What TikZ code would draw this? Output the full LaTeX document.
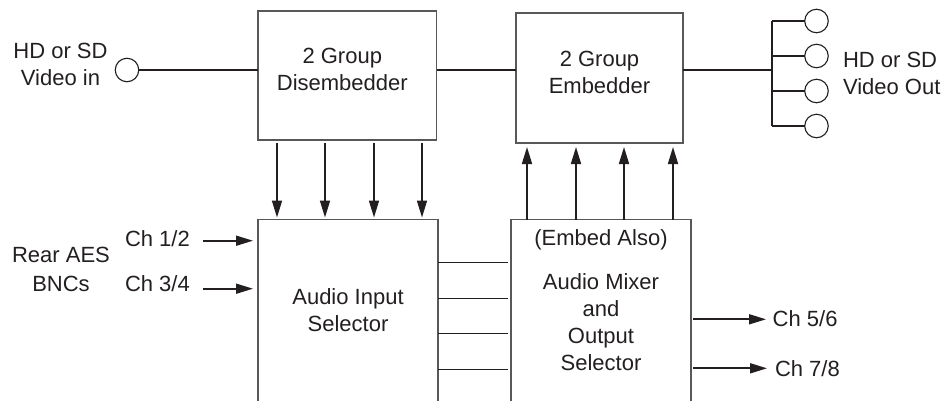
\documentclass[tikz,border=0pt]{standalone}
\usepackage{fontspec}
\setmainfont{Liberation Sans}
\usetikzlibrary{arrows.meta,calc}

\definecolor{ink}{RGB}{35,31,32}
\definecolor{edge}{RGB}{88,88,88}

\begin{document}
\begin{tikzpicture}[x=1pt,y=-1pt,
  every node/.style={inner sep=0pt, outer sep=0pt, text=ink},
  % multi-line labels are placed by the baseline of their last line
  lbl/.style={font=\fontsize{22}{27}\selectfont, align=center, anchor=base},
  lblw/.style={font=\fontsize{22}{26.5}\selectfont, align=left, anchor=base west},
  blk/.style={draw=edge, line width=1.3pt, rectangle},
  jack/.style={draw=ink, line width=1.1pt, circle, minimum size=23.5pt},
  wire/.style={draw=ink, line width=1.2pt},
  arr/.style={draw=ink, line width=1.7pt, -{Triangle[length=17pt,width=10pt]}}]

\useasboundingbox (0,0) rectangle (946,400);
\clip (0,0) rectangle (946,400);

% processing blocks
\node[blk, minimum width=178.5pt, minimum height=129pt] (dis) at (347.25,75.5) {};
\node[blk, minimum width=167pt, minimum height=130pt] (emb) at (599.5,78) {};
\node[blk, minimum width=180pt, minimum height=191pt] (sel) at (348,315) {};
\node[blk, minimum width=180pt, minimum height=191pt] (mix) at (601,315) {};

% video connectors
\node[jack] (vin) at (127,70) {};
\node[jack] (o1) at (816.5,21) {};
\node[jack] (o2) at (816.5,56) {};
\node[jack] (o3) at (816.5,91) {};
\node[jack] (o4) at (816.5,126) {};
\coordinate (bus) at (772,70);

% labels
\node[lbl] (vinlbl) at (60.5,85) {HD or SD\\Video in};
\node[lbl] (distxt) at (342.3,90) {2 Group\\Disembedder};
\node[lbl] (embtxt) at (599.5,93.3) {2 Group\\Embedder};
\node[lblw] (voutlbl) at (843,94.3) {HD or SD\\Video Out};
\node[lbl, font=\fontsize{22}{29}\selectfont] (aes) at (61,291.7) {Rear AES\\BNCs};
\node[lblw] (ch12) at (125,246) {Ch 1/2};
\node[lblw] (ch34) at (125,291.7) {Ch 3/4};
\node[lbl] (seltxt) at (348,331) {Audio Input\\Selector};
\node[lbl] (also) at (601,245) {(Embed Also)};
\node[lbl] (mixtxt) at (601,370) {Audio Mixer\\and\\Output\\Selector};
\node[lblw] (ch56) at (772.7,326.7) {Ch 5/6};
\node[lblw] (ch78) at (775,376.7) {Ch 7/8};

% video path
\draw[wire] (vin.east) -- (dis.west |- vin.center);
\draw[wire] (dis.east |- vin.center) -- (emb.west |- vin.center);
\draw[wire] (emb.east |- vin.center) -- (bus);
\draw[wire] (bus |- o1.center) -- (bus |- o4.center);
\foreach \i in {1,...,4} \draw[wire] (bus |- o\i.center) -- (o\i.west);

% disembedded audio down to the input selector
\foreach \dx in {19,67,116,164}
  \draw[arr] ($(dis.south west)+(\dx,3)$) -- ($(sel.north west)+(\dx,-2)$);

% mixer outputs up to the embedder
\foreach \dx in {16,65,113,162}
  \draw[arr] ($(mix.north west)+(\dx,0)$) -- ($(mix.north west |- emb.south)+(\dx,4)$);

% selector to mixer
\foreach \dy in {43,79,114,150}
  \draw[wire] ($(sel.north east)+(0,\dy)$) -- ($(mix.north west)+(-3,\dy)$);

% AES inputs
\draw[arr] ($(sel.north west)+(-55,21.2)$) -- ($(sel.north west)+(-5,21.2)$);
\draw[arr] ($(sel.north west)+(-55,69.2)$) -- ($(sel.north west)+(-5,69.2)$);

% AES outputs
\draw[arr] ($(mix.north east)+(2,99.8)$) -- ($(mix.north east)+(75,99.8)$);
\draw[arr] ($(mix.north east)+(2,148.8)$) -- ($(mix.north east)+(76,148.8)$);

\end{tikzpicture}
\end{document}
